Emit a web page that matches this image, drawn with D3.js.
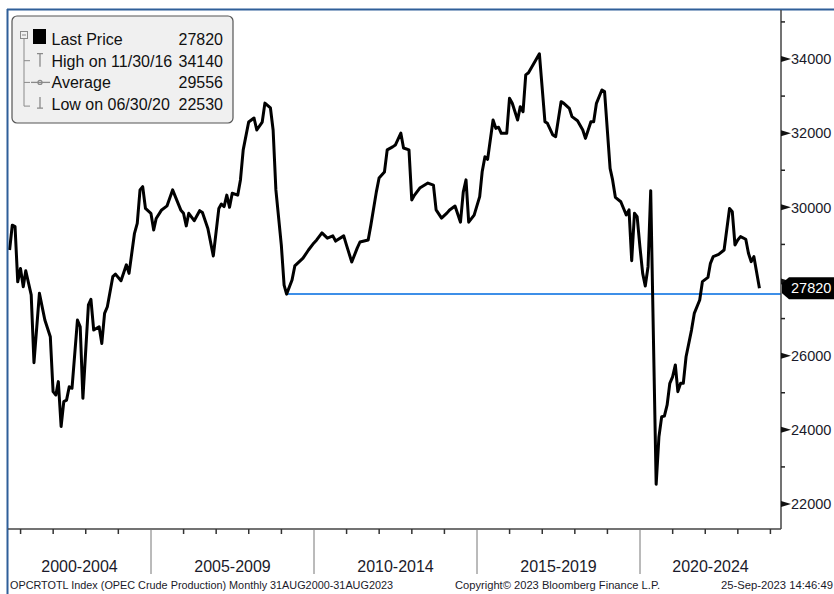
<!DOCTYPE html>
<html>
<head>
<meta charset="utf-8">
<script src="https://cdn.jsdelivr.net/npm/d3@7"></script>
<style>
  html, body { margin: 0; padding: 0; background: #fff; }
  svg { display: block; font-family: "Liberation Sans", Arial, sans-serif; }
</style>
</head>
<body>
<svg id="chart" width="834" height="594"></svg>
<script>
// OPEC crude production, monthly (thousand b/d)
const months = [
  "2000-08","2000-09","2000-10","2000-11","2000-12","2001-01","2001-02","2001-04","2001-05","2001-07",
  "2001-09","2001-11","2001-12","2002-01","2002-02","2002-03","2002-04","2002-05","2002-06","2002-07",
  "2002-09","2002-10","2002-11","2003-01","2003-02","2003-03","2003-05","2003-06","2003-07","2003-08",
  "2003-10","2003-11","2004-01","2004-03","2004-04","2004-06","2004-07","2004-08","2004-09","2004-10",
  "2004-12","2005-01","2005-02","2005-04","2005-06","2005-08","2005-11","2005-12","2006-01","2006-02",
  "2006-04","2006-06","2006-07","2006-09","2006-11","2007-01","2007-02","2007-03","2007-04","2007-05",
  "2007-06","2007-08","2007-09","2007-10","2007-12","2008-02","2008-03","2008-05","2008-06","2008-08",
  "2008-09","2008-10","2008-12","2009-01","2009-02","2009-04","2009-05","2009-08","2009-10","2009-12",
  "2010-01","2010-03","2010-05","2010-07","2010-08","2010-11","2010-12","2011-02","2011-04","2011-05",
  "2011-08","2011-09","2011-11","2011-12","2012-02","2012-03","2012-05","2012-06","2012-08","2012-09",
  "2012-11","2012-12","2013-01","2013-03","2013-06","2013-08","2013-09","2013-11","2014-01","2014-02",
  "2014-04","2014-06","2014-07","2014-08","2014-09","2014-11","2015-01","2015-02","2015-03","2015-04",
  "2015-06","2015-07","2015-08","2015-09","2015-11","2015-12","2016-01","2016-03","2016-04","2016-05",
  "2016-06","2016-07","2016-09","2016-11","2017-01","2017-02","2017-04","2017-05","2017-07","2017-08",
  "2017-10","2017-11","2018-01","2018-03","2018-04","2018-06","2018-07","2018-08","2018-10","2018-11",
  "2019-01","2019-02","2019-03","2019-05","2019-06","2019-07","2019-08","2019-09","2019-10","2019-11",
  "2019-12","2020-01","2020-02","2020-03","2020-04","2020-05","2020-06","2020-07","2020-08","2020-09",
  "2020-10","2020-11","2020-12","2021-01","2021-02","2021-03","2021-04","2021-05","2021-07","2021-08",
  "2021-10","2021-11","2022-01","2022-02","2022-03","2022-05","2022-07","2022-09","2022-10","2022-11",
  "2022-12","2023-01","2023-03","2023-04","2023-05","2023-06","2023-08"
];
const values = [
  28850,29520,29480,27990,28350,27860,28290,27640,25810,27680,
  26960,26510,25030,24940,25300,24090,24760,24800,25160,25120,
  26960,26780,24850,27370,27520,26690,26780,26330,27140,27320,
  28130,28200,28020,28450,28220,29300,29570,30470,30560,29970,
  29840,29390,29700,29930,30040,30470,29930,29840,29500,29840,
  29640,29910,29860,29430,28690,29970,30090,30020,30330,30000,
  30380,30330,30740,31550,32300,32410,32085,32300,32810,32680,
  32085,30470,28980,27905,27660,28040,28420,28630,28850,29040,
  29120,29310,29170,29230,29090,29230,28980,28525,28900,29065,
  29120,29520,30410,30790,30950,31550,31630,31680,32000,31600,
  31550,30200,30330,30520,30655,30600,29930,29710,29850,29930,
  30035,29600,30410,30740,29600,29790,30290,30960,31365,31295,
  32355,32130,32160,31995,31995,32940,32805,32355,32715,32580,
  33570,33630,33885,34140,32310,32265,31950,31905,32850,32805,
  32670,32445,32335,32085,31860,32310,32310,32805,33165,33120,
  31050,30740,30270,30150,29975,29795,29930,28560,29840,29750,
  28940,28220,27880,28400,30450,26400,22530,23810,24355,24370,
  24670,25255,25430,25750,25030,25255,25255,25970,26690,27140,
  27500,27995,28110,28490,28670,28730,28850,29970,29880,28985,
  29120,29210,29140,28760,28535,28670,27820
];

const lastPrice = 27820;
const refLineStart = "2009-02";
const refLineValue = 27660;

const yTicks = [22000, 24000, 26000, 28000, 30000, 32000, 34000];
const yMinorTicks = [23000, 25000, 27000, 29000, 31000, 33000, 35000];
const periodStarts = [2000, 2005, 2010, 2015, 2020];
const periodLabels = ["2000-2004", "2005-2009", "2010-2014", "2015-2019", "2020-2024"];

const legendLabels = ["Last Price", "High on 11/30/16", "Average", "Low on 06/30/20"];
const legendValues = ["27820", "34140", "29556", "22530"];

const footerLeft = "OPCRTOTL Index (OPEC Crude Production)  Monthly 31AUG2000-31AUG2023";
const footerMid = "Copyright\u00A9 2023 Bloomberg Finance L.P.";
const footerRight = "25-Sep-2023 14:46:49";

// month points sit on the last day of the month
const parseMonth = d3.timeParse("%Y-%m");
const monthEnd = (s) => d3.timeDay.offset(d3.timeMonth.offset(parseMonth(s), 1), -1);
const data = months.map((m, i) => ({ date: monthEnd(m), value: values[i] }));

const plotLeft = 8, plotRight = 781, plotTop = 10, plotBottom = 529;

const x = d3.scaleTime()
  .domain([new Date(2005, 0, 1), new Date(2020, 0, 1)])
  .range([151, 640]);
x.domain([x.invert(plotLeft), x.invert(plotRight)]).range([plotLeft, plotRight]);

const y = d3.scaleLinear().domain([22000, 34000]).range([504, 59]);
y.domain([y.invert(plotBottom), y.invert(plotTop)]).range([plotBottom, plotTop]);

const svg = d3.select("#chart");

svg.append("defs").append("clipPath").attr("id", "plot-clip")
  .append("rect")
  .attr("x", plotLeft).attr("y", plotTop)
  .attr("width", plotRight - plotLeft).attr("height", plotBottom - plotTop);

// reference line
svg.append("line")
  .attr("x1", x(monthEnd(refLineStart)))
  .attr("x2", plotRight)
  .attr("y1", y(refLineValue))
  .attr("y2", y(refLineValue))
  .attr("stroke", "#3d8fe8")
  .attr("stroke-width", 2);

// price line
const line = d3.line().x((d) => x(d.date)).y((d) => y(d.value));
svg.append("path")
  .datum(data)
  .attr("clip-path", "url(#plot-clip)")
  .attr("fill", "none")
  .attr("stroke", "#000")
  .attr("stroke-width", 3)
  .attr("stroke-linejoin", "round")
  .attr("d", line);

// frame
svg.append("line").attr("x1", 7).attr("x2", 834).attr("y1", 9.5).attr("y2", 9.5)
  .attr("stroke", "#2f5f99").attr("stroke-width", 2);
svg.append("line").attr("x1", 7.5).attr("x2", 7.5).attr("y1", 9).attr("y2", 594)
  .attr("stroke", "#2f5f99").attr("stroke-width", 2);

// right axis
const yAxis = svg.append("g");
yAxis.append("line")
  .attr("x1", plotRight).attr("x2", plotRight).attr("y1", plotTop).attr("y2", plotBottom)
  .attr("stroke", "#444").attr("stroke-width", 1.5);

yAxis.selectAll(".minor")
  .data(yMinorTicks.filter((v) => y(v) >= plotTop && y(v) <= plotBottom))
  .enter().append("line")
  .attr("x1", plotRight).attr("x2", plotRight + 4)
  .attr("y1", (d) => y(d)).attr("y2", (d) => y(d))
  .attr("stroke", "#222").attr("stroke-width", 1.5);

yAxis.selectAll(".major")
  .data(yTicks)
  .enter().append("path")
  .attr("d", (d) => `M${plotRight},${y(d) - 3}L${plotRight + 10},${y(d)}L${plotRight},${y(d) + 3}Z`)
  .attr("fill", "#111");

yAxis.selectAll(".ylab")
  .data(yTicks.filter((v) => Math.abs(y(v) - y(lastPrice)) > 14))
  .enter().append("text")
  .attr("x", plotRight + 10)
  .attr("y", (d) => y(d))
  .attr("dy", "0.36em")
  .attr("font-size", 14.5)
  .attr("fill", "#1a1a2a")
  .text((d) => d);

// last price tag
const ly = y(lastPrice);
svg.append("path")
  .attr("d", `M789,${ly - 11}H834V${ly + 11}H789L782,${ly + 5}V${ly - 5}Z`)
  .attr("fill", "#000");
svg.append("text")
  .attr("x", 791).attr("y", ly).attr("dy", "0.36em")
  .attr("font-size", 14.5).attr("fill", "#fff")
  .text(lastPrice);

// bottom axis
const xAxis = svg.append("g");
xAxis.append("line")
  .attr("x1", plotLeft).attr("x2", plotRight).attr("y1", plotBottom).attr("y2", plotBottom)
  .attr("stroke", "#444").attr("stroke-width", 1.5);

const years = d3.timeYear.range(new Date(2001, 0, 1), new Date(2025, 0, 1));
xAxis.selectAll(".xtick")
  .data(years)
  .enter().append("line")
  .attr("x1", (d) => x(d)).attr("x2", (d) => x(d))
  .attr("y1", plotBottom)
  .attr("y2", (d) => (d.getFullYear() % 5 === 0 ? 574 : plotBottom + 5))
  .attr("stroke", (d) => (d.getFullYear() % 5 === 0 ? "#777" : "#333"))
  .attr("stroke-width", (d) => (d.getFullYear() % 5 === 0 ? 1 : 1.5));

xAxis.selectAll(".period")
  .data(periodStarts)
  .enter().append("text")
  .attr("x", (d) => {
    const a = Math.max(x(new Date(d, 0, 1)), plotLeft);
    const b = Math.min(x(new Date(d + 5, 0, 1)), plotRight);
    return (a + b) / 2;
  })
  .attr("y", 572)
  .attr("text-anchor", "middle")
  .attr("font-size", 16)
  .attr("fill", "#1a1a2a")
  .text((d, i) => periodLabels[i]);

// legend
const lg = svg.append("g");
lg.append("rect")
  .attr("x", 12).attr("y", 16).attr("width", 221).attr("height", 107)
  .attr("rx", 5)
  .attr("fill", "#f0f0f0").attr("stroke", "#555").attr("stroke-width", 1.2);

const rowY = (i) => 45 + i * 21.7;
const grey = "#8a8a8a";

lg.append("rect").attr("x", 20.5).attr("y", 31.5).attr("width", 7).attr("height", 7)
  .attr("fill", "none").attr("stroke", grey);
lg.append("line").attr("x1", 22).attr("x2", 26).attr("y1", 35).attr("y2", 35).attr("stroke", grey);
lg.append("path")
  .attr("d", `M24,39V${rowY(3) - 4}H30M24,${rowY(1) - 6}H30M24,${rowY(2) - 6}H30`)
  .attr("fill", "none").attr("stroke", grey);
lg.append("rect").attr("x", 33).attr("y", 29).attr("width", 13).attr("height", 15).attr("fill", "#000");
// high marker
lg.append("path")
  .attr("d", `M37,${rowY(1) - 13}H43M40,${rowY(1) - 13}V${rowY(1)}`)
  .attr("fill", "none").attr("stroke", grey).attr("stroke-width", 1.3);
// average marker
lg.append("line").attr("x1", 31).attr("x2", 50).attr("y1", rowY(2) - 6).attr("y2", rowY(2) - 6)
  .attr("stroke", grey).attr("stroke-width", 1.3);
lg.append("circle").attr("cx", 40).attr("cy", rowY(2) - 6).attr("r", 2)
  .attr("fill", "none").attr("stroke", grey).attr("stroke-width", 1.3);
// low marker
lg.append("path")
  .attr("d", `M40,${rowY(3) - 13}V${rowY(3) - 2}M37,${rowY(3) - 2}H43`)
  .attr("fill", "none").attr("stroke", grey).attr("stroke-width", 1.3);

lg.selectAll(".ll")
  .data(legendLabels)
  .enter().append("text")
  .attr("x", 51.5).attr("y", (d, i) => rowY(i))
  .attr("font-size", 16).attr("fill", "#111")
  .text((d) => d);
lg.selectAll(".lv")
  .data(legendValues)
  .enter().append("text")
  .attr("x", 223).attr("y", (d, i) => rowY(i))
  .attr("text-anchor", "end")
  .attr("font-size", 16).attr("fill", "#111")
  .text((d) => d);

// footer
svg.append("text").attr("x", 10).attr("y", 589).attr("font-size", 11)
  .attr("textLength", 383).attr("lengthAdjust", "spacingAndGlyphs")
  .attr("fill", "#1a1a2a").text(footerLeft);
svg.append("text").attr("x", 455).attr("y", 589).attr("font-size", 11)
  .attr("textLength", 205).attr("lengthAdjust", "spacingAndGlyphs")
  .attr("fill", "#1a1a2a").text(footerMid);
svg.append("text").attr("x", 721).attr("y", 589).attr("font-size", 11)
  .attr("textLength", 112).attr("lengthAdjust", "spacingAndGlyphs")
  .attr("fill", "#1a1a2a").text(footerRight);
</script>
</body>
</html>
